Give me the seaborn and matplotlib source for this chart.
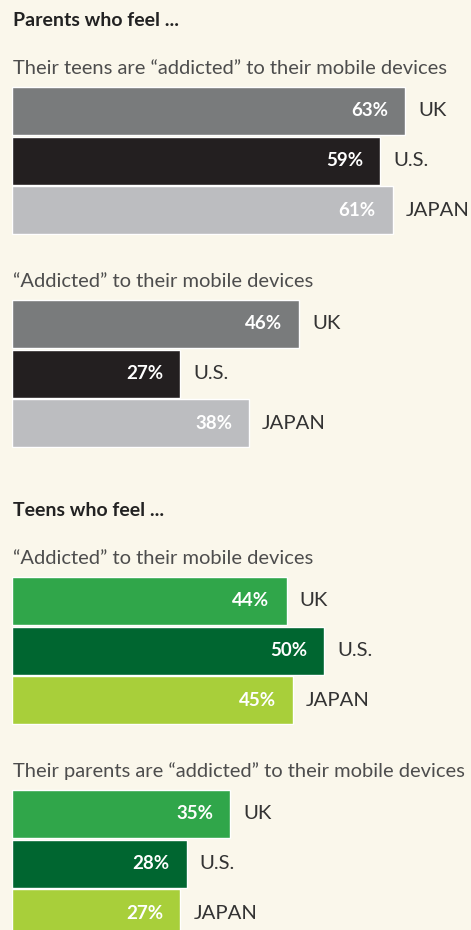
import matplotlib
matplotlib.use("Agg")
import matplotlib.pyplot as plt
import seaborn as sns
import pandas as pd

sns.set_theme(style="white")
plt.rcParams['font.family'] = ['Lato', 'DejaVu Sans']

countries = ["UK", "U.S.", "JAPAN"]
parents_teens_addicted = [63, 59, 61]
parents_self_addicted = [46, 27, 38]
teens_self_addicted = [44, 50, 45]
teens_parents_addicted = [35, 28, 27]

section_titles = ["Parents who feel ...", "Teens who feel ..."]
subtitles = [
    "Their teens are \u201caddicted\u201d to their mobile devices",
    "\u201cAddicted\u201d to their mobile devices",
    "\u201cAddicted\u201d to their mobile devices",
    "Their parents are \u201caddicted\u201d to their mobile devices",
]

grey_palette = ["#797b7c", "#231f20", "#bcbdc0"]
green_palette = ["#30a64a", "#006630", "#a8cf3a"]
BG = "#faf7eb"

W, H = 471, 930
fig = plt.figure(figsize=(W / 100, H / 100), dpi=100)
fig.patch.set_facecolor(BG)

PX_PER_PCT = 6.24
LEFT = 12
ROW = 49.7

groups = [
    (parents_teens_addicted, grey_palette, 86),
    (parents_self_addicted, grey_palette, 299),
    (teens_self_addicted, green_palette, 576),
    (teens_parents_addicted, green_palette, 789),
]

def fy(px):
    return 1 - px / H

for i, (vals, pal, top) in enumerate(groups):
    height = 3 * ROW
    ax = fig.add_axes([LEFT / W, fy(top + height), (W - LEFT) / W, height / H])
    ax.set_facecolor("none")
    df = pd.DataFrame({"country": countries, "value": vals})
    sns.barplot(data=df, x="value", y="country", hue="country", palette=pal,
                order=countries, hue_order=countries, legend=False,
                width=0.965, saturation=1, ax=ax, orient="h")
    ax.set_xlim(0, (W - LEFT) / PX_PER_PCT)
    ax.set_ylim(2.5, -0.5)
    ax.axis("off")
    for j, v in enumerate(vals):
        ax.text(v - 17 / PX_PER_PCT, j, f"{v}%", ha="right", va="center",
                color="white", fontsize=13.5, fontweight="bold")
        ax.text(v + 13 / PX_PER_PCT, j, countries[j], ha="left", va="center",
                color="#333333", fontsize=14.6)
    fig.text(13 / W, fy(top - 12), subtitles[i], ha="left", va="baseline",
             color="#4d4d4d", fontsize=14.5)

fig.text(13 / W, fy(26), section_titles[0], ha="left", va="baseline",
         color="#222222", fontsize=14, fontweight="bold")
fig.text(13 / W, fy(516), section_titles[1], ha="left", va="baseline",
         color="#222222", fontsize=14, fontweight="bold")

fig.savefig("out.png", dpi=100, facecolor=BG)
